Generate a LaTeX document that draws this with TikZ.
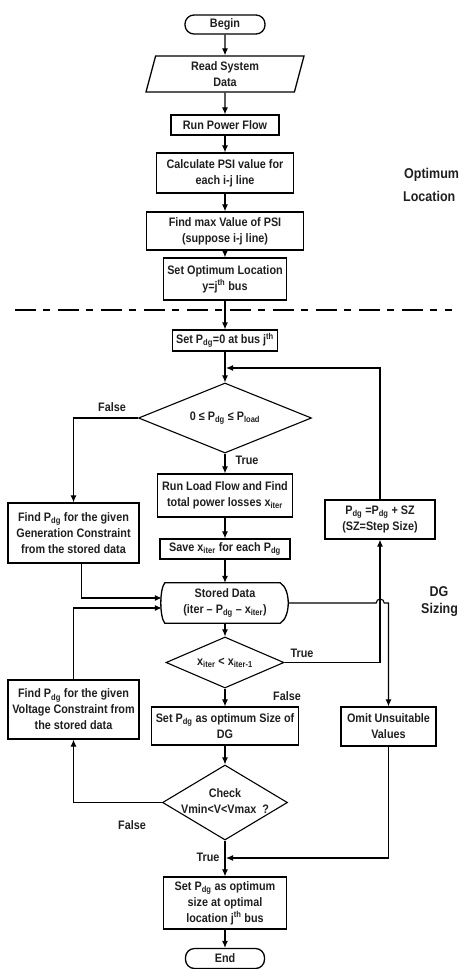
\documentclass[tikz,border=0pt]{standalone}
\usepackage{fontspec}
\setmainfont[FakeStretch=0.88]{Liberation Sans}
\usetikzlibrary{arrows.meta,shapes.geometric,calc}
\newcommand{\lo}[1]{\textsubscript{#1}}
\newcommand{\hi}[1]{\textsuperscript{#1}}
\begin{document}
\begin{tikzpicture}[x=1pt,y=-1pt,
  every node/.style={font=\fontsize{12.3}{16}\selectfont\bfseries, inner sep=0pt, text=black!88},
  box/.style={draw, line width=1.3pt, align=center},
  term/.style={box, rounded corners=9pt},
  io/.style={draw, line width=1.3pt, align=center, trapezium, trapezium left angle=69,
             trapezium right angle=111, trapezium stretches body},
  dia/.style={draw, line width=1.1pt, diamond},
  conn/.style={line width=1.1pt},
  arr/.style={conn, -{Latex[length=7pt,width=6pt]}},
  side/.style={font=\fontsize{14.2}{18}\selectfont\bfseries, anchor=west}
]
\useasboundingbox (0,0) rectangle (458,969);

% ---------- optimum location part ----------
\node[term, minimum width=80pt, minimum height=19pt] (begin) at (225,24.5) {Begin};
\node[io, minimum width=158pt, minimum height=36pt] (read) at (225,74) {Read System\\Data};
\node[box, minimum width=108pt, minimum height=20pt] (rpf) at (225,125) {Run Power Flow};
\node[box, minimum width=137pt, minimum height=40pt] (calc) at (225,173) {Calculate PSI value for\\each i-j line};
\node[box, minimum width=157pt, minimum height=38pt] (fmax) at (225,231) {Find max Value of PSI\\(suppose i-j line)};
\node[box, minimum width=123pt, minimum height=42pt] (setloc) at (225,279) {Set Optimum Location\\y=j\hi{th} bus};

\node[side] (optA) at (404,175) {Optimum};
\node[side] (optB) at (403,196) {Location};

\draw[line width=1.1pt, dash pattern=on 21pt off 7pt on 7pt off 8pt] (15,310) -- (452,310);

% ---------- DG sizing part ----------
\node[box, minimum width=105pt, minimum height=21pt] (setp) at (225,340.5) {Set P\lo{dg}=0 at bus j\hi{th}};
\node[dia, minimum width=173pt, minimum height=70pt] (d1) at (225,418) {};
\node (d1t) at (d1) {0 ≤ P\lo{dg} ≤ P\lo{load}};
\node[box, minimum width=135pt, minimum height=43pt] (rlf) at (225,495.5) {Run Load Flow and Find\\total power losses x\lo{iter}};
\node[box, minimum width=130pt, minimum height=20pt] (save) at (225,549) {Save x\lo{iter} for each P\lo{dg}};
\node[align=center, minimum width=126pt, minimum height=40pt] (sd) at (225,603) {Stored Data\\(iter -- P\lo{dg} -- x\lo{iter})};
\draw[line width=1.3pt]
  ($(sd.north west)+(3,0)$) -- ($(sd.north east)+(-8,0)$)
  .. controls ($(sd.east)+(2.7,-14)$) and ($(sd.east)+(2.7,14)$) .. ($(sd.south east)+(-8,0)$)
  -- ($(sd.south west)+(3,0)$)
  .. controls ($(sd.west)+(-2.3,14)$) and ($(sd.west)+(-2.3,-14)$) .. cycle;
\node[dia, minimum width=118pt, minimum height=51pt] (d2) at (225,662.5) {};
\node (d2t) at (d2) {x\lo{iter} < x\lo{iter-1}};
\node[box, minimum width=147pt, minimum height=38pt] (setopt) at (225,726) {Set P\lo{dg} as optimum Size of\\DG};
\node[dia, minimum width=125pt, minimum height=75pt] (chk) at (225,802.5) {};
\node[align=center] (chkt) at (225,801.5) {Check\\Vmin<V<Vmax\ \ ?};
\node[box, minimum width=123pt, minimum height=52pt] (final) at (225,903) {Set P\lo{dg} as optimum\\size at optimal\\location j\hi{th} bus};
\node[term, minimum width=79pt, minimum height=20pt] (end) at (225,958.5) {End};

\node[box, minimum width=131pt, minimum height=60pt] (gen) at (73.5,533) {Find P\lo{dg} for the given\\Generation Constraint\\from the stored data};
\node[box, minimum width=131pt, minimum height=59pt] (volt) at (73.5,709.5) {Find P\lo{dg} for the given\\Voltage Constraint from\\the stored data};
\node[box, minimum width=110pt, minimum height=39pt] (sz) at (380,519.5) {P\lo{dg} =P\lo{dg} + SZ\\(SZ=Step Size)};
\node[box, minimum width=95pt, minimum height=39pt] (omit) at (388.5,726.5) {Omit Unsuitable\\Values};

\node[font=\fontsize{14.2}{18}\selectfont\bfseries] (dgA) at (439,592) {DG};
\node[side] (dgB) at (421,610) {Sizing};

\coordinate (j1) at (226,368);
\coordinate (j2) at (226,858);

% labels
\node (lf1) at (112,407) {False};
\node (lt1) at (247,460) {True};
\node (lt2) at (302,653) {True};
\node (lf2) at (287,696) {False};
\node (lf3) at (132,825) {False};
\node (lt3) at (208,857) {True};

% ---------- connectors ----------
\draw[arr] (begin) -- (read);
\draw[arr] (read) -- (rpf);
\draw[arr] (rpf) -- (calc);
\draw[arr] (calc) -- (fmax);
\draw[arr] (fmax) -- (setloc);
\draw[arr] (setloc) -- (setp);
\draw[arr] (setp) -- (d1);
\draw[arr] (d1) -- (rlf);
\draw[arr] (rlf) -- (save);
\draw[arr] (save) -- (sd);
\draw[arr] (sd) -- (d2);
\draw[arr] (d2) -- (setopt);
\draw[arr] (setopt) -- (chk);
\draw[arr] (chk) -- (final);
\draw[arr] (final) -- (end);

\draw[arr] (d1.west) -| (gen.north);
\draw[arr] ([xshift=8pt]gen.south) |- ([yshift=5pt]sd.west);
\draw[arr] (volt.north) |- ([yshift=-5pt]sd.west);
\draw[arr] (chk.west) -| (volt.south);
\draw[arr] (d2.east) -| (sz.south);
\draw[arr] (sz.north) |- (j1);
\draw[arr] (sd.east) -- ++(88,0) arc[start angle=180, end angle=0, radius=4pt] -| (omit.north);
\draw[arr] (omit.south) |- (j2);
\end{tikzpicture}
\end{document}
